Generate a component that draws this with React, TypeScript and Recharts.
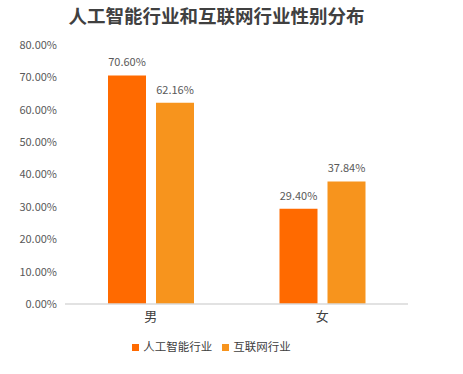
import { BarChart, Bar, XAxis, YAxis, Legend, LabelList } from 'recharts';

const categories = ['男', '女'];
const aiValues = [70.6, 29.4];
const internetValues = [62.16, 37.84];
const yTicks = [0, 10, 20, 30, 40, 50, 60, 70, 80];

const chartData = categories.map((name, i) => ({
  name,
  ai: aiValues[i],
  internet: internetValues[i],
}));

const fontFamily = '"Noto Sans CJK SC", "Noto Sans", sans-serif';
const pct = (v: any) => `${Number(v).toFixed(2)}%`;

export default function App() {
  return (
    <div style={{ position: 'absolute', top: 0, left: 0, width: 463, height: 374, background: '#fff', fontFamily }}>
      <div
        style={{
          position: 'absolute',
          top: 0,
          left: 0,
          width: 433,
          lineHeight: '31px',
          textAlign: 'center',
          fontSize: 18.5,
          fontWeight: 700,
          color: '#404040',
        }}
      >
        人工智能行业和互联网行业性别分布
      </div>
      <BarChart
        width={463}
        height={374}
        data={chartData}
        margin={{ top: 45, right: 55, left: 5, bottom: 20 }}
        barSize={38}
        barGap={10}
      >
        <XAxis
          dataKey="name"
          height={34}
          axisLine={{ stroke: '#d9d9d9', strokeWidth: 1.5 }}
          tickLine={false}
          tick={{ fill: '#404040', fontSize: 13, fontFamily }}
        />
        <YAxis
          width={60}
          domain={[0, 80]}
          ticks={yTicks}
          tickFormatter={pct}
          axisLine={false}
          tickLine={false}
          tick={{ fill: '#595959', fontSize: 11, fontFamily }}
        />
        <Legend
          iconType="square"
          iconSize={7}
          itemSorter={null}
          formatter={(value: any) => <span style={{ color: '#404040' }}>{value}</span>}
          wrapperStyle={{ fontSize: 11.5, fontFamily, left: 0, width: 433 }}
        />
        <Bar dataKey="ai" name="人工智能行业" fill="#ff6a00" isAnimationActive={false}>
          <LabelList dataKey="ai" position="top" offset={9} formatter={pct} fill="#595959" fontSize={11} />
        </Bar>
        <Bar dataKey="internet" name="互联网行业" fill="#f7941d" isAnimationActive={false}>
          <LabelList dataKey="internet" position="top" offset={9} formatter={pct} fill="#595959" fontSize={11} />
        </Bar>
      </BarChart>
    </div>
  );
}
